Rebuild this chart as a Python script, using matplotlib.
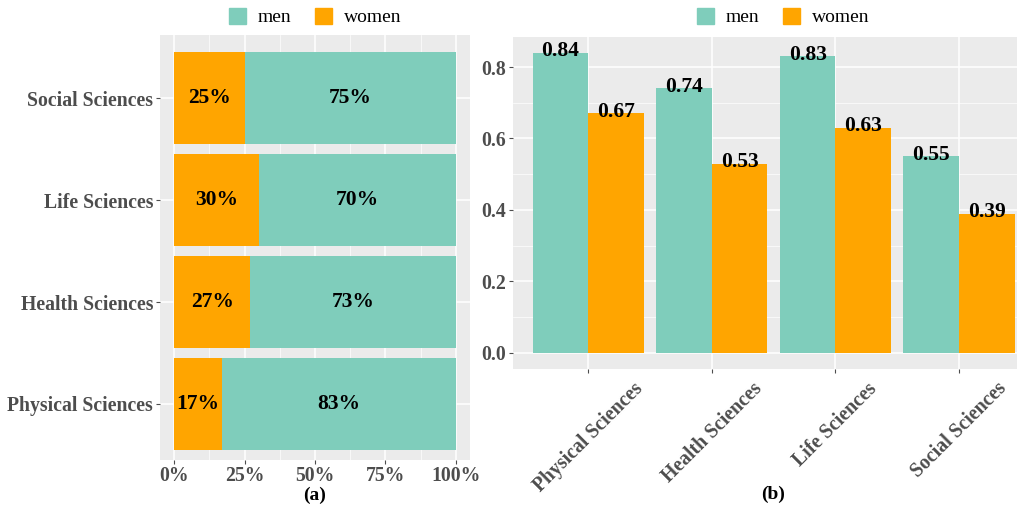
import matplotlib.pyplot as plt
from matplotlib.patches import Patch
from matplotlib.ticker import MultipleLocator, FixedLocator

plt.rcParams['font.family'] = ['Liberation Serif', 'DejaVu Serif']

FIELDS = ["Physical Sciences", "Health Sciences", "Life Sciences", "Social Sciences"]
SHARE_WOMEN = [0.17, 0.27, 0.30, 0.25]
SHARE_MEN = [0.83, 0.73, 0.70, 0.75]
RATE_MEN = [0.84, 0.74, 0.83, 0.55]
RATE_WOMEN = [0.67, 0.53, 0.63, 0.39]

MEN_C = "#7FCDBB"
WOMEN_C = "#FFA500"
PANEL = "#EBEBEB"
TICK_C = "#4D4D4D"
W, H = 1029, 508

fig = plt.figure(figsize=(W / 100, H / 100), dpi=100)


def style(ax):
    ax.set_facecolor(PANEL)
    for s in ax.spines.values():
        s.set_visible(False)
    ax.grid(True, which="major", color="white", lw=1.1)
    ax.grid(True, which="minor", color="white", lw=0.5)
    ax.set_axisbelow(True)
    ax.tick_params(which="major", length=3, color=TICK_C, width=0.8, pad=2)
    ax.tick_params(which="minor", length=0)
    for lab in ax.get_xticklabels() + ax.get_yticklabels():
        lab.set_fontweight("bold")
        lab.set_color(TICK_C)
        lab.set_fontsize(14.2)


# ── (a) stacked share ────────────────────────────────────────────────────────
axa = fig.add_axes([160 / W, 1 - 460 / H, 310 / W, 425 / H])
ypos = range(len(FIELDS))
axa.barh(ypos, SHARE_WOMEN, height=0.9, color=WOMEN_C)
axa.barh(ypos, SHARE_MEN, left=SHARE_WOMEN, height=0.9, color=MEN_C)
for i, (w, m) in enumerate(zip(SHARE_WOMEN, SHARE_MEN)):
    axa.text(w / 2, i, f"{w*100:.0f}%", ha="center", va="center",
             fontsize=15.5, fontweight="bold")
    axa.text(w + m / 2, i, f"{m*100:.0f}%", ha="center", va="center",
             fontsize=15.5, fontweight="bold")
axa.set_xlim(-0.05, 1.05)
axa.set_ylim(-0.55, 3.62)
axa.set_yticks(list(ypos))
axa.set_yticklabels(FIELDS)
axa.xaxis.set_major_locator(FixedLocator([0, 0.25, 0.5, 0.75, 1.0]))
axa.xaxis.set_minor_locator(FixedLocator([0.125, 0.375, 0.625, 0.875]))
axa.set_xticklabels(["0%", "25%", "50%", "75%", "100%"])
axa.yaxis.grid(False, which="minor")
style(axa)
axa.tick_params(axis="x", pad=1.5)

# ── (b) dodged rates ─────────────────────────────────────────────────────────
axb = fig.add_axes([513 / W, 1 - 369 / H, 504 / W, 332 / H])
xpos = list(range(len(FIELDS)))
bw = 0.45
axb.bar([x - bw / 2 for x in xpos], RATE_MEN, width=bw, color=MEN_C)
axb.bar([x + bw / 2 for x in xpos], RATE_WOMEN, width=bw, color=WOMEN_C)
for x, m, w in zip(xpos, RATE_MEN, RATE_WOMEN):
    axb.text(x - bw / 2, m + 0.004, f"{m:.2f}", ha="center", va="center",
             fontsize=15.5, fontweight="bold")
    axb.text(x + bw / 2, w + 0.004, f"{w:.2f}", ha="center", va="center",
             fontsize=15.5, fontweight="bold")
axb.set_xlim(-0.61, 3.47)
axb.set_ylim(-0.045, 0.884)
axb.yaxis.set_major_locator(MultipleLocator(0.2))
axb.yaxis.set_minor_locator(MultipleLocator(0.1))
axb.set_yticks([0, 0.2, 0.4, 0.6, 0.8])
axb.set_yticklabels(["0.0", "0.2", "0.4", "0.6", "0.8"])
axb.set_xticks(xpos)
axb.set_xticklabels(FIELDS)
axb.xaxis.grid(False, which="minor")
style(axb)
axb.tick_params(axis="x", pad=4)
for lab in axb.get_xticklabels():
    lab.set_rotation(45)
    lab.set_ha("center")
    lab.set_va("top")

# panel captions
fig.text(315 / W, 1 - 495 / H, "(a)", ha="center", va="center",
         fontsize=14, fontweight="bold")
fig.text(773 / W, 1 - 494 / H, "(b)", ha="center", va="center",
         fontsize=14, fontweight="bold")

# ── legends ──────────────────────────────────────────────────────────────────
handles = [Patch(color=MEN_C, label="men"), Patch(color=WOMEN_C, label="women")]
for cx in (315 / W, 783 / W):
    fig.legend(handles=handles, loc="center", bbox_to_anchor=(cx, 1 - 17 / H),
               ncol=2, frameon=False, fontsize=14, handlelength=0.9,
               handleheight=0.9, columnspacing=1.2, handletextpad=0.6)

fig.savefig("out.png", dpi=100)
